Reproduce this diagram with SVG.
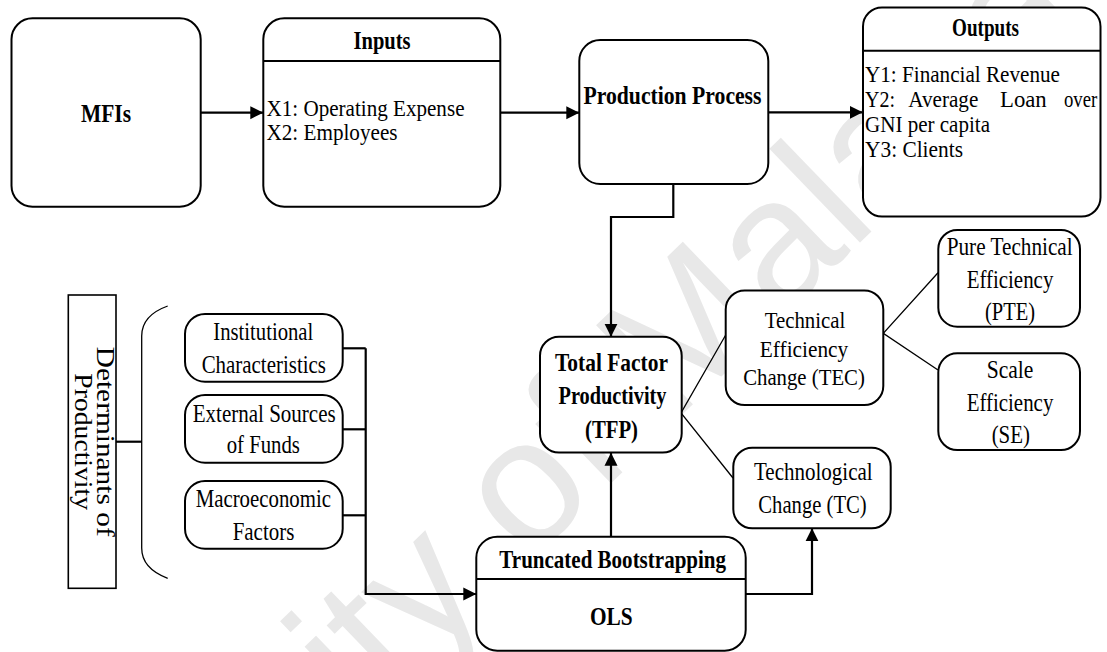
<svg xmlns="http://www.w3.org/2000/svg" width="1107" height="652" viewBox="0 0 1107 652">
  <style>
    .box { fill: #fff; stroke: #000; stroke-width: 2; }
    .sep { stroke: #000; stroke-width: 2; }
    .t { font-family: "Liberation Serif", "Times New Roman", serif; font-size: 26px; fill: #000; text-anchor: middle; }
    .m { font-size: 24px; }
    .b { font-weight: bold; }
    .s { text-anchor: start; }
    .wire { fill: none; stroke: #000; stroke-width: 2.2; }
    .thin { fill: none; stroke: #000; stroke-width: 1.3; }
    .wm { font-family: "Liberation Sans", Arial, sans-serif; font-size: 180px; fill: #e8e8e8; }
  </style>
  <defs>
    <marker id="arr" markerWidth="14" markerHeight="14" refX="13" refY="7" orient="auto" markerUnits="userSpaceOnUse">
      <path d="M0,0.5 L13,7 L0,13.5 z" fill="#000"/>
    </marker>
  </defs>

  <rect width="1107" height="652" fill="#fff"/>

  <!-- background watermark -->
  <text class="wm" transform="translate(680,326) rotate(-44) translate(-1115,65)">University of Malaya</text>

  <!-- connectors -->
  <g id="connectors">
    <line class="wire" x1="200.7" y1="112.7" x2="263.3" y2="112.7" marker-end="url(#arr)"/>
    <line class="wire" x1="500.3" y1="112.7" x2="579.3" y2="112.7" marker-end="url(#arr)"/>
    <line class="wire" x1="768.3" y1="112.3" x2="862.7" y2="112.3" marker-end="url(#arr)"/>
    <polyline class="wire" points="673.3,184 673.3,217 611,217 611,336.7" marker-end="url(#arr)"/>
    <line class="wire" x1="611" y1="536.7" x2="611" y2="452.7" marker-end="url(#arr)"/>
    <polyline class="wire" points="745.7,594 812,594 812,528.3" marker-end="url(#arr)"/>
    <line class="wire" x1="342.7" y1="348.3" x2="365.7" y2="348.3"/>
    <line class="wire" x1="342.7" y1="429.3" x2="365.7" y2="429.3"/>
    <line class="wire" x1="342.7" y1="515.3" x2="365.7" y2="515.3"/>
    <polyline class="wire" points="365.7,348.3 365.7,594 476.3,594" marker-end="url(#arr)"/>
    <polyline class="thin" points="725.7,335 681,413 733,478"/>
    <polyline class="thin" points="938,272.7 883.3,333.3 938,370"/>
    <line class="wire" x1="116" y1="441.7" x2="142" y2="441.7"/>
    <path class="thin" d="M167.7,306 C151,312 141.7,322 141.7,336 L141.7,548 C141.7,562 151,572 167.7,578.3"/>
  </g>

  <g id="mfis">
    <rect class="box" x="11.5" y="18.3" width="189.2" height="188.4" rx="21"/>
    <text class="t b" x="106" y="122" textLength="50" lengthAdjust="spacingAndGlyphs">MFIs</text>
  </g>

  <g id="inputs">
    <rect class="box" x="263.3" y="18.3" width="237" height="188.4" rx="21"/>
    <line class="sep" x1="263.3" y1="61" x2="500.3" y2="61"/>
    <text class="t b" x="382" y="48.5" textLength="57" lengthAdjust="spacingAndGlyphs">Inputs</text>
    <text class="t m s" x="266.5" y="115.5" textLength="198" lengthAdjust="spacingAndGlyphs">X1: Operating Expense</text>
    <text class="t m s" x="266.5" y="139.5" textLength="131" lengthAdjust="spacingAndGlyphs">X2: Employees</text>
  </g>

  <g id="production">
    <rect class="box" x="579.3" y="40" width="189" height="144" rx="21"/>
    <text class="t b" x="672.5" y="103.5" textLength="178" lengthAdjust="spacingAndGlyphs">Production Process</text>
  </g>

  <g id="outputs">
    <rect class="box" x="863" y="7.5" width="237.5" height="209" rx="19"/>
    <line class="sep" x1="863" y1="50.7" x2="1100.5" y2="50.7"/>
    <text class="t b" x="985.5" y="35.5" textLength="67" lengthAdjust="spacingAndGlyphs">Outputs</text>
    <text class="t m s" x="865" y="82" textLength="195" lengthAdjust="spacingAndGlyphs">Y1: Financial Revenue</text>
    <text class="t m s" x="865" y="107" textLength="30" lengthAdjust="spacingAndGlyphs">Y2:</text>
    <text class="t m s" x="908.3" y="107" textLength="70" lengthAdjust="spacingAndGlyphs">Average</text>
    <text class="t m s" x="1000" y="107" textLength="46.7" lengthAdjust="spacingAndGlyphs">Loan</text>
    <text class="t m s" x="1064" y="107" textLength="33.3" lengthAdjust="spacingAndGlyphs">over</text>
    <text class="t m s" x="865" y="132" textLength="125" lengthAdjust="spacingAndGlyphs">GNI per capita</text>
    <text class="t m s" x="865" y="157" textLength="98" lengthAdjust="spacingAndGlyphs">Y3: Clients</text>
  </g>

  <g id="tfp">
    <rect class="box" x="540" y="336.7" width="141.7" height="115.8" rx="19"/>
    <text class="t b" x="611.5" y="370.5" textLength="113" lengthAdjust="spacingAndGlyphs">Total Factor</text>
    <text class="t b" x="612.5" y="404" textLength="108" lengthAdjust="spacingAndGlyphs">Productivity</text>
    <text class="t b" x="611.5" y="437.5" textLength="53" lengthAdjust="spacingAndGlyphs">(TFP)</text>
  </g>

  <g id="tec">
    <rect class="box" x="725.7" y="290.5" width="157.6" height="114.5" rx="19"/>
    <text class="t m" x="805" y="328" textLength="80.7" lengthAdjust="spacingAndGlyphs">Technical</text>
    <text class="t m" x="804" y="356.5" textLength="88.3" lengthAdjust="spacingAndGlyphs">Efficiency</text>
    <text class="t m" x="804" y="384.5" textLength="121.7" lengthAdjust="spacingAndGlyphs">Change (TEC)</text>
  </g>

  <g id="pte">
    <rect class="box" x="938.3" y="230" width="141.7" height="96.7" rx="19"/>
    <text class="t" x="1009.7" y="255" textLength="126" lengthAdjust="spacingAndGlyphs">Pure Technical</text>
    <text class="t" x="1010" y="288" textLength="86.7" lengthAdjust="spacingAndGlyphs">Efficiency</text>
    <text class="t" x="1010" y="320" textLength="50" lengthAdjust="spacingAndGlyphs">(PTE)</text>
  </g>

  <g id="se">
    <rect class="box" x="938.3" y="353.3" width="141.7" height="96.7" rx="19"/>
    <text class="t" x="1010" y="378" textLength="46.7" lengthAdjust="spacingAndGlyphs">Scale</text>
    <text class="t" x="1010" y="411" textLength="86.7" lengthAdjust="spacingAndGlyphs">Efficiency</text>
    <text class="t" x="1010.8" y="443" textLength="38.3" lengthAdjust="spacingAndGlyphs">(SE)</text>
  </g>

  <g id="tc">
    <rect class="box" x="733.3" y="447.7" width="157.4" height="80.6" rx="19"/>
    <text class="t" x="813.3" y="480" textLength="118.7" lengthAdjust="spacingAndGlyphs">Technological</text>
    <text class="t" x="812.5" y="513.3" textLength="108.3" lengthAdjust="spacingAndGlyphs">Change (TC)</text>
  </g>

  <g id="bootstrap">
    <rect class="box" x="476.3" y="536.7" width="269.4" height="114" rx="21"/>
    <line class="sep" x1="476.3" y1="579" x2="745.7" y2="579"/>
    <text class="t b" x="612.7" y="568" textLength="226.7" lengthAdjust="spacingAndGlyphs">Truncated Bootstrapping</text>
    <text class="t b" x="611.3" y="625" textLength="42.7" lengthAdjust="spacingAndGlyphs">OLS</text>
  </g>

  <g id="determinants">
    <rect x="68.3" y="295" width="47.7" height="293.3" fill="#fff" stroke="#000" stroke-width="1.6"/>
    <g transform="translate(97,441.7) rotate(90)">
      <text class="t" x="0" y="0" font-size="22" textLength="190" lengthAdjust="spacingAndGlyphs">Determinants of</text>
      <text class="t" x="0" y="22" font-size="22" textLength="136.7" lengthAdjust="spacingAndGlyphs">Productivity</text>
    </g>
  </g>

  <g id="institutional">
    <rect class="box" x="185" y="314" width="157.7" height="67.7" rx="20"/>
    <text class="t" x="263.3" y="340" textLength="100" lengthAdjust="spacingAndGlyphs">Institutional</text>
    <text class="t" x="263.8" y="373.3" textLength="124.3" lengthAdjust="spacingAndGlyphs">Characteristics</text>
  </g>

  <g id="external">
    <rect class="box" x="185" y="395" width="157.7" height="67.7" rx="20"/>
    <text class="t" x="264.2" y="421.7" textLength="143" lengthAdjust="spacingAndGlyphs">External Sources</text>
    <text class="t" x="263.3" y="453.3" textLength="73.3" lengthAdjust="spacingAndGlyphs">of Funds</text>
  </g>

  <g id="macro">
    <rect class="box" x="185" y="481" width="157.7" height="67.7" rx="20"/>
    <text class="t" x="263.3" y="506.7" textLength="135.3" lengthAdjust="spacingAndGlyphs">Macroeconomic</text>
    <text class="t" x="263.5" y="540" textLength="61.7" lengthAdjust="spacingAndGlyphs">Factors</text>
  </g>
</svg>
